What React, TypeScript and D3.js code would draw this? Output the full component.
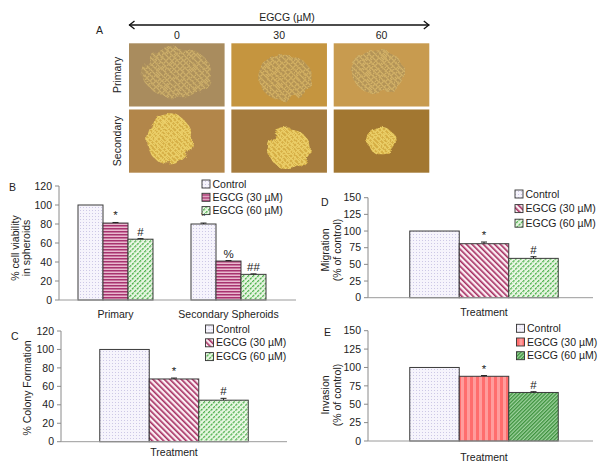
import React from "react";
import * as d3 from "d3";

// series + values
const series = ["Control", "EGCG (30 µM)", "EGCG (60 µM)"];
const viabilityGroups = ["Primary", "Secondary Spheroids"];
const viabilityValues = [
  [100, 81, 64],
  [80, 41, 27],
];
const viabilityErrors = [
  [0, 0.6, 0.6],
  [1, 0.5, 0.5],
];
const viabilityMarks = [
  ["", "*", "#"],
  ["*", "%", "##"],
];
const colonyValues = [100, 68, 45];
const colonyErrors = [0, 1, 2];
const migrationValues = [100, 81, 59];
const migrationErrors = [0, 2.5, 2.5];
const invasionValues = [100, 88, 66];
const invasionErrors = [0, 1, 1];
const singleMarks = ["", "*", "#"];
const ticks120 = [0, 20, 40, 60, 80, 100, 120];
const ticks150 = [0, 25, 50, 75, 100, 125, 150];

// panel A labels
const doses = ["0", "30", "60"];
const spheroidTypes = ["Primary", "Secondary"];
const imageTones = [
  ["#a98c5e", "#c5953f", "#c89b4f"],
  ["#b2864a", "#a57b3d", "#a27731"],
];

const font = "'Liberation Sans', Arial, sans-serif";
const W = 600;
const H = 473;

type Panel = {
  letter: string;
  letterPos: [number, number];
  xRange: [number, number];
  axisEnd: number;
  yRange: [number, number];
  yMax: number;
  ticks: number[];
  groups: string[];
  values: number[][];
  errors: number[][];
  marks: string[][];
  fills: string[];
  barWidth: number;
  xLabelY: number;
  yLabels: string[];
  yLabelXs: number[];
  yLabelY: number;
  legendPos: [number, number];
  legendStep: number;
};

const BarPanel: React.FC<{ p: Panel }> = ({ p }) => {
  const x0 = d3.scaleBand().domain(p.groups).range(p.xRange);
  const bw = x0.bandwidth();
  const total = p.barWidth * series.length;
  const x1 = d3
    .scaleBand()
    .domain(series)
    .range([(bw - total) / 2, (bw + total) / 2]);
  const y = d3.scaleLinear().domain([0, p.yMax]).range(p.yRange);
  const axisX = p.xRange[0];

  return (
    <g fontFamily={font}>
      <text x={p.letterPos[0]} y={p.letterPos[1]} fontSize={10.5} fill="#222">
        {p.letter}
      </text>
      {/* y axis */}
      <line x1={axisX} x2={axisX} y1={y(0)} y2={y(p.yMax)} stroke="#8a8a8a" />
      {p.ticks.map((t) => (
        <g key={t}>
          <line x1={axisX - 4} x2={axisX} y1={y(t)} y2={y(t)} stroke="#8a8a8a" />
          <text
            x={axisX - 7}
            y={y(t)}
            dy="0.35em"
            textAnchor="end"
            fontSize={10.5}
            fill="#222"
          >
            {t}
          </text>
        </g>
      ))}
      {p.yLabels.map((l, i) => (
        <text
          key={l}
          transform={`translate(${p.yLabelXs[i]},${p.yLabelY}) rotate(-90)`}
          textAnchor="middle"
          dy="0.35em"
          fontSize={10.5}
          fill="#222"
        >
          {l}
        </text>
      ))}
      {/* bars */}
      {p.groups.map((g, gi) => (
        <g key={g} transform={`translate(${x0(g)},0)`}>
          {series.map((s, si) => {
            const v = p.values[gi][si];
            const e = p.errors[gi][si];
            const bx = x1(s) as number;
            const cx = bx + p.barWidth / 2;
            return (
              <g key={s}>
                <rect
                  x={bx}
                  y={y(v)}
                  width={p.barWidth}
                  height={y(0) - y(v)}
                  fill={`url(#${p.fills[si]})`}
                  stroke="#3a3a3a"
                  strokeWidth={1}
                />
                {e > 0 && (
                  <g stroke="#222" strokeWidth={1}>
                    <line x1={cx} x2={cx} y1={y(v)} y2={y(v + e)} />
                    <line x1={cx - 3} x2={cx + 3} y1={y(v + e)} y2={y(v + e)} />
                  </g>
                )}
                {p.marks[gi][si] && (
                  <text
                    x={cx}
                    y={y(v + e) - 3}
                    textAnchor="middle"
                    fontSize={11.5}
                    fill="#222"
                  >
                    {p.marks[gi][si]}
                  </text>
                )}
              </g>
            );
          })}
        </g>
      ))}
      {/* x axis */}
      <line x1={axisX} x2={p.axisEnd} y1={y(0)} y2={y(0)} stroke="#9a9a9a" />
      {p.groups.map((g) => (
        <text
          key={g}
          x={(x0(g) as number) + bw / 2}
          y={p.xLabelY}
          dy="0.35em"
          textAnchor="middle"
          fontSize={10.5}
          fill="#222"
        >
          {g}
        </text>
      ))}
      {/* legend */}
      {series.map((s, i) => (
        <g
          key={s}
          transform={`translate(${p.legendPos[0]},${p.legendPos[1] + i * p.legendStep})`}
        >
          <rect
            x={0}
            y={-4}
            width={8}
            height={8}
            fill={`url(#${p.fills[i]})`}
            stroke="#333"
            strokeWidth={0.9}
          />
          <text x={10.5} y={0} dy="0.35em" fontSize={10.5} fill="#222">
            {s}
          </text>
        </g>
      ))}
    </g>
  );
};

const panels: Panel[] = [
  {
    letter: "B",
    letterPos: [9, 191],
    xRange: [59, 285],
    axisEnd: 296,
    yRange: [300, 186],
    yMax: 120,
    ticks: ticks120,
    groups: viabilityGroups,
    values: viabilityValues,
    errors: viabilityErrors,
    marks: viabilityMarks,
    fills: ["pCtrl", "pHStripe", "pGreen"],
    barWidth: 25,
    xLabelY: 314,
    yLabels: ["% cell viability", "in spheroids"],
    yLabelXs: [15, 26],
    yLabelY: 248,
    legendPos: [202, 184],
    legendStep: 13.3,
  },
  {
    letter: "C",
    letterPos: [11, 340],
    xRange: [61, 287],
    axisEnd: 287,
    yRange: [441.7, 331],
    yMax: 120,
    ticks: ticks120,
    groups: ["Treatment"],
    values: [colonyValues],
    errors: [colonyErrors],
    marks: [singleMarks],
    fills: ["pCtrl", "pMagDiag", "pGreen"],
    barWidth: 49.5,
    xLabelY: 452,
    yLabels: ["% Colony Formation"],
    yLabelXs: [27],
    yLabelY: 388,
    legendPos: [205.5, 329],
    legendStep: 13.8,
  },
  {
    letter: "D",
    letterPos: [321, 206],
    xRange: [368, 600],
    axisEnd: 593,
    yRange: [297.7, 197.7],
    yMax: 150,
    ticks: ticks150,
    groups: ["Treatment"],
    values: [migrationValues],
    errors: [migrationErrors],
    marks: [singleMarks],
    fills: ["pCtrl", "pMagDiag", "pGreen"],
    barWidth: 49.5,
    xLabelY: 312,
    yLabels: ["Migration", "(% of control)"],
    yLabelXs: [325, 337],
    yLabelY: 250,
    legendPos: [515, 194],
    legendStep: 14.6,
  },
  {
    letter: "E",
    letterPos: [324, 336],
    xRange: [368, 600],
    axisEnd: 593,
    yRange: [441, 330.7],
    yMax: 150,
    ticks: ticks150,
    groups: ["Treatment"],
    values: [invasionValues],
    errors: [invasionErrors],
    marks: [singleMarks],
    fills: ["pCtrl", "pRedV", "pGreenDense"],
    barWidth: 49.5,
    xLabelY: 457,
    yLabels: ["Invasion", "(% of control)"],
    yLabelXs: [325, 337],
    yLabelY: 395,
    legendPos: [516.5, 328.3],
    legendStep: 13.7,
  },
];

// rough blob placement inside each micrograph (fractions of the frame)
const blobs = [
  [
    [0.5, 0.46, 0.36, 0.4],
    [0.56, 0.54, 0.28, 0.36],
    [0.46, 0.45, 0.28, 0.34],
  ],
  [
    [0.42, 0.47, 0.24, 0.4],
    [0.6, 0.62, 0.22, 0.32],
    [0.5, 0.5, 0.15, 0.21],
  ],
];

const ImagePanel: React.FC = () => {
  const x = d3.scaleBand().domain(doses).range([129, 429.3]).paddingInner(0.066);
  const y = d3
    .scaleBand()
    .domain(spheroidTypes)
    .range([43.3, 172.7])
    .paddingInner(0.045);
  return (
    <g fontFamily={font} fill="#222">
      <text x={96} y={34} fontSize={10.5}>
        A
      </text>
      <text x={287} y={17} dy="0.35em" textAnchor="middle" fontSize={10.5}>
        EGCG (µM)
      </text>
      <g stroke="#111" strokeWidth={1.3} fill="none">
        <line x1={129} x2={429.3} y1={25} y2={25} />
        <path d="M134.5,21 L129.5,25 L134.5,29" />
        <path d="M423.8,21 L428.8,25 L423.8,29" />
      </g>
      {doses.map((d) => (
        <text
          key={d}
          x={(x(d) as number) + x.bandwidth() / 2}
          y={35}
          dy="0.35em"
          textAnchor="middle"
          fontSize={10.5}
        >
          {d}
        </text>
      ))}
      {spheroidTypes.map((t, ri) => (
        <g key={t}>
          <text
            transform={`translate(117,${(y(t) as number) + y.bandwidth() / 2}) rotate(-90)`}
            textAnchor="middle"
            dy="0.35em"
            fontSize={10.5}
          >
            {t}
          </text>
          {doses.map((d, ci) => {
            const bx = x(d) as number;
            const by = y(t) as number;
            const w = x.bandwidth();
            const h = y.bandwidth();
            const [fx, fy, frx, fry] = blobs[ri][ci];
            return (
              <g key={d}>
                <clipPath id={`clip-${ri}-${ci}`}>
                  <rect x={bx} y={by} width={w} height={h} />
                </clipPath>
                <rect x={bx} y={by} width={w} height={h} fill={imageTones[ri][ci]} />
                <g clipPath={`url(#clip-${ri}-${ci})`}>
                  <ellipse
                    cx={bx + fx * w}
                    cy={by + fy * h}
                    rx={frx * w}
                    ry={fry * h}
                    fill={ri === 0 ? "url(#pCellsA)" : "url(#pCellsB)"}
                    opacity={ri === 0 ? 0.8 : 0.95}
                    filter="url(#rough)"
                  />
                </g>
              </g>
            );
          })}
        </g>
      ))}
    </g>
  );
};

const App: React.FC = () => (
  <svg
    width={W}
    height={H}
    viewBox={`0 0 ${W} ${H}`}
    style={{ position: "absolute", left: 0, top: 0, background: "#fff" }}
  >
    <defs>
      <filter id="rough" x="-20%" y="-20%" width="140%" height="140%">
        <feTurbulence type="fractalNoise" baseFrequency="0.09" numOctaves={2} seed={3} />
        <feDisplacementMap in="SourceGraphic" scale={9} />
      </filter>
      <pattern id="pCtrl" width={3} height={3} patternUnits="userSpaceOnUse">
        <rect width={3} height={3} fill="#f6f4fc" />
        <rect width={1} height={1} fill="#cdc8e6" />
      </pattern>
      <pattern id="pHStripe" width={4} height={3} patternUnits="userSpaceOnUse">
        <rect width={4} height={3} fill="#e9b9cf" />
        <rect width={4} height={1.5} fill="#a8336f" />
      </pattern>
      <pattern
        id="pMagDiag"
        width={4}
        height={4}
        patternUnits="userSpaceOnUse"
        patternTransform="rotate(-45)"
      >
        <rect width={4} height={4} fill="#fbeef3" />
        <rect width={1.6} height={4} fill="#a52d60" />
      </pattern>
      <pattern
        id="pGreen"
        width={3.5}
        height={3.5}
        patternUnits="userSpaceOnUse"
        patternTransform="rotate(45)"
      >
        <rect width={3.5} height={3.5} fill="#eaf7e4" />
        <rect width={1.3} height={2.6} fill="#4fb24f" />
      </pattern>
      <pattern id="pRedV" width={6} height={4} patternUnits="userSpaceOnUse">
        <rect width={6} height={4} fill="#ff9c9c" />
        <rect width={3} height={4} fill="#ff6d6d" />
      </pattern>
      <pattern
        id="pGreenDense"
        width={2.6}
        height={2.6}
        patternUnits="userSpaceOnUse"
        patternTransform="rotate(45)"
      >
        <rect width={2.6} height={2.6} fill="#9fd39f" />
        <rect width={1.3} height={2.6} fill="#3e923e" />
      </pattern>
      <pattern id="pCellsA" width={6} height={6} patternUnits="userSpaceOnUse">
        <rect width={6} height={6} fill="#b0935a" />
        <circle cx={3} cy={3} r={2.3} fill="none" stroke="#e9c977" strokeWidth={0.9} />
      </pattern>
      <pattern id="pCellsB" width={5} height={5} patternUnits="userSpaceOnUse">
        <rect width={5} height={5} fill="#d9b347" />
        <circle cx={2.5} cy={2.5} r={1.9} fill="none" stroke="#fbe680" strokeWidth={0.9} />
      </pattern>
    </defs>
    <ImagePanel />
    {panels.map((p) => (
      <BarPanel key={p.letter} p={p} />
    ))}
  </svg>
);

export default App;
